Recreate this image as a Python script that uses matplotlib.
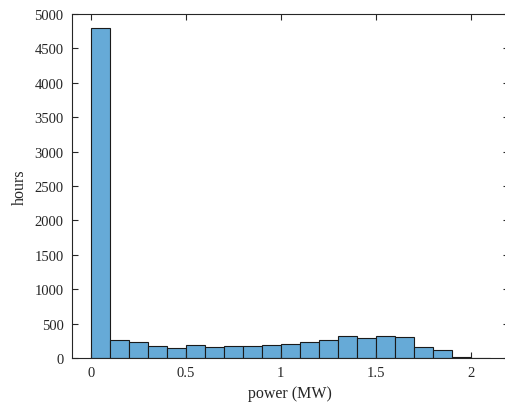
import numpy as np
import matplotlib
matplotlib.use('Agg')
import matplotlib.pyplot as plt

plt.rcParams['font.family'] = ['Liberation Serif', 'DejaVu Serif']

# histogram bins (MW) and counts (hours)
bin_edges = np.round(np.arange(0, 2.11, 0.1), 2)
hours = [4800, 266, 237, 179, 145, 189, 160, 174, 174, 183,
         208, 228, 257, 320, 291, 320, 300, 155, 121, 19, 5]

fig = plt.figure(figsize=(5.05, 4.10), dpi=100)
ax = fig.add_axes([72/505, 51/410, 436.6/505, 344/410])

ax.hist(bin_edges[:-1], bins=bin_edges, weights=hours,
        facecolor='#66aad7', edgecolor='#1a1a1a', linewidth=0.8)

ax.set_xlim(-0.1, 2.2)
ax.set_ylim(0, 5000)
ax.set_xticks([0, 0.5, 1, 1.5, 2])
ax.set_xticklabels(['0', '0.5', '1', '1.5', '2'])
ax.set_yticks(np.arange(0, 5001, 500))

ax.tick_params(direction='in', length=4, width=0.8, top=True, right=True,
               labelsize=10.5, colors='#262626', pad=6)
for s in ax.spines.values():
    s.set_color('#262626')
    s.set_linewidth(0.8)
# right border falls just outside the picture in the original
ax.spines['right'].set_visible(False)

ax.set_xlabel('power (MW)', fontsize=11.5, color='#262626', labelpad=4)
ax.set_ylabel('hours', fontsize=11.5, color='#262626', labelpad=5)

fig.savefig('out.png', dpi=100)
